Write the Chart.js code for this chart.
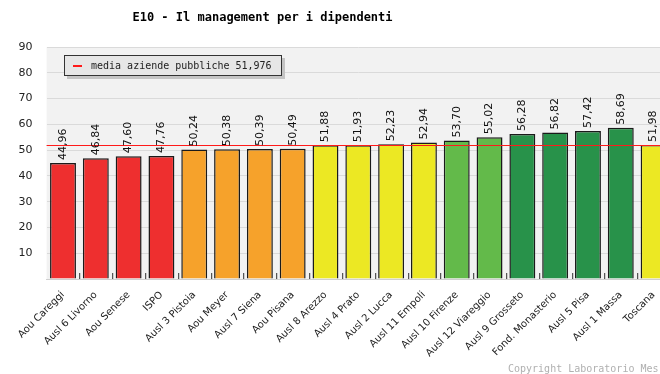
<!doctype html>
<html lang="it">
<head>
<meta charset="UTF-8">
<title>E10 - Il management per i dipendenti</title>
<script src="https://cdn.jsdelivr.net/npm/chart.js"></script>
<style>
    html, body { margin: 0; padding: 0; background: #fff; }
    #wrap { width: 660px; height: 374px; overflow: hidden; position: relative; }
    #wrap canvas { position: absolute; left: 0; top: 0; }
</style>
</head>
<body>
<div id="wrap">
    <canvas id="grafico" width="672" height="374"></canvas>
</div>
<script>
    const aziende = ['Aou Careggi', 'Ausl 6 Livorno', 'Aou Senese', 'ISPO', 'Ausl 3 Pistoia', 'Aou Meyer',
        'Ausl 7 Siena', 'Aou Pisana', 'Ausl 8 Arezzo', 'Ausl 4 Prato', 'Ausl 2 Lucca', 'Ausl 11 Empoli',
        'Ausl 10 Firenze', 'Ausl 12 Viareggio', 'Ausl 9 Grosseto', 'Fond. Monasterio', 'Ausl 5 Pisa',
        'Ausl 1 Massa', 'Toscana'];
    const valori = [44.96, 46.84, 47.60, 47.76, 50.24, 50.38, 50.39, 50.49, 51.88, 51.93, 52.23, 52.94,
        53.70, 55.02, 56.28, 56.82, 57.42, 58.69, 51.98];
    const fasce = ['r', 'r', 'r', 'r', 'o', 'o', 'o', 'o', 'y', 'y', 'y', 'y', 'lg', 'lg', 'g', 'g', 'g', 'g', 'y'];
    const mediaPubbliche = 51.976;
    const tickY = [10, 20, 30, 40, 50, 60, 70, 80, 90];

    const coloriFasce = { r: '#ee2f2f', o: '#f6a22b', y: '#ece823', lg: '#63ba4a', g: '#28924a' };
    const virgola = v => v.toFixed(2).replace('.', ',');

    // sfondo area, tacche in basso, linea media, etichette valori, legenda, titolo
    const disegno = {
        id: 'disegno',
        beforeDraw(chart) {
            const { ctx, chartArea: a } = chart;
            ctx.save();
            ctx.fillStyle = '#f2f2f2';
            ctx.fillRect(a.left, a.top, a.right - a.left, a.bottom - a.top);
            ctx.restore();
        },
        afterDatasetsDraw(chart) {
            const { ctx, chartArea: a, scales } = chart;
            const x = scales.x, y = scales.y;
            ctx.save();

            // tacche fra le categorie
            const passo = x.getPixelForValue(1) - x.getPixelForValue(0);
            for (let i = 1; i < aziende.length; i++) {
                const px = Math.round(x.getPixelForValue(i) - passo / 2) + 0.5;
                ctx.strokeStyle = '#555';
                ctx.lineWidth = 1;
                ctx.beginPath();
                ctx.moveTo(px, a.bottom - 6);
                ctx.lineTo(px, a.bottom);
                ctx.stroke();
                ctx.strokeStyle = '#ccc';
                ctx.beginPath();
                ctx.moveTo(px + 1, a.bottom - 6);
                ctx.lineTo(px + 1, a.bottom);
                ctx.stroke();
            }

            // linea media aziende pubbliche
            const ym = Math.round(y.getPixelForValue(mediaPubbliche)) + 0.5;
            ctx.strokeStyle = '#ff1a1a';
            ctx.lineWidth = 1;
            ctx.beginPath();
            ctx.moveTo(a.left, ym);
            ctx.lineTo(a.right, ym);
            ctx.stroke();

            // valori sopra le barre
            ctx.fillStyle = '#111';
            ctx.font = '11px "DejaVu Sans"';
            ctx.textAlign = 'left';
            ctx.textBaseline = 'middle';
            valori.forEach((v, i) => {
                const px = x.getPixelForValue(i);
                const py = y.getPixelForValue(v) - 3;
                ctx.save();
                ctx.translate(px, py);
                ctx.rotate(-Math.PI / 2);
                ctx.fillText(virgola(v), 0, 0);
                ctx.restore();
            });

            // legenda
            ctx.fillStyle = '#c4c4c4';
            ctx.fillRect(67, 58, 218, 21);
            ctx.fillStyle = '#e6e6e6';
            ctx.fillRect(64, 55, 218, 21);
            ctx.strokeStyle = '#333';
            ctx.strokeRect(64.5, 55.5, 217, 20);
            ctx.strokeStyle = '#ff1a1a';
            ctx.lineWidth = 2;
            ctx.beginPath();
            ctx.moveTo(73, 66);
            ctx.lineTo(82, 66);
            ctx.stroke();
            ctx.fillStyle = '#222';
            ctx.font = '10px "DejaVu Sans Mono"';
            ctx.fillText('media aziende pubbliche ' + String(mediaPubbliche).replace('.', ','), 91, 66);

            // titolo
            ctx.font = 'bold 12px "DejaVu Sans Mono"';
            ctx.textAlign = 'center';
            ctx.fillStyle = '#000';
            ctx.fillText('E10 - Il management per i dipendenti', 262.5, 18);

            // copyright
            ctx.font = '10px "DejaVu Sans Mono"';
            ctx.textAlign = 'left';
            ctx.fillStyle = '#b0b0b0';
            ctx.fillText('Copyright Laboratorio Mes', 508, 369);
            ctx.restore();
        }
    };

    new Chart(document.getElementById('grafico'), {
        type: 'bar',
        data: {
            labels: aziende,
            datasets: [{
                data: valori,
                backgroundColor: fasce.map(f => coloriFasce[f]),
                borderColor: '#1a1a1a',
                borderWidth: 1.5,
                categoryPercentage: 1,
                barPercentage: 0.79
            }]
        },
        options: {
            responsive: false,
            animation: false,
            devicePixelRatio: 1,
            layout: { padding: { top: 47, right: 2, left: 0, bottom: 0 } },
            plugins: { legend: { display: false }, tooltip: { enabled: false } },
            scales: {
                x: {
                    grid: { display: false },
                    border: { color: '#cfcfcf' },
                    ticks: {
                        color: '#222',
                        font: { family: 'DejaVu Sans', size: 10 },
                        maxRotation: 45,
                        minRotation: 45,
                        autoSkip: false,
                        padding: 2
                    },
                    afterFit: s => { s.height = 95; }
                },
                y: {
                    min: 0,
                    max: 90,
                    afterBuildTicks: s => { s.ticks = [0].concat(tickY).map(v => ({ value: v })); },
                    grid: { color: '#dadada', drawTicks: false },
                    border: { display: false },
                    ticks: {
                        color: '#222',
                        font: { family: 'DejaVu Sans', size: 11 },
                        padding: 14,
                        callback: v => (v === 0 ? '' : v)
                    },
                    afterFit: s => { s.width = 46.6; }
                }
            }
        },
        plugins: [disegno]
    });
</script>
</body>
</html>
